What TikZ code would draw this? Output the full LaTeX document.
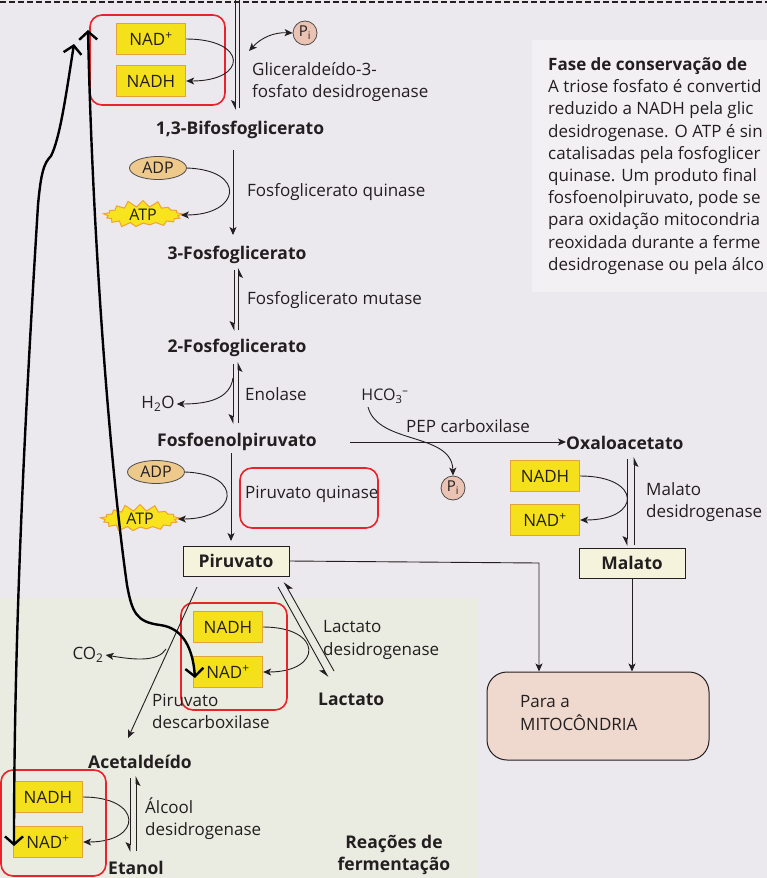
\documentclass[tikz,border=0pt]{standalone}
\usepackage{fontspec}
\setmainfont{Open Sans}
\usetikzlibrary{arrows.meta,shapes.symbols,shapes.geometric}
\definecolor{bg}{HTML}{ECE9EE}
\definecolor{panel}{HTML}{F2F0F3}
\definecolor{greenish}{HTML}{EAEBE1}
\definecolor{ink}{HTML}{231F20}
\definecolor{nady}{HTML}{F5E01C}
\definecolor{nade}{HTML}{E3A23A}
\definecolor{fred}{HTML}{E8232B}
\definecolor{adpf}{HTML}{EDC98C}
\definecolor{atpy}{HTML}{F7E31E}
\definecolor{atpe}{HTML}{F0A236}
\definecolor{pif}{HTML}{EBC3B3}
\definecolor{cream}{HTML}{F6F3DC}
\definecolor{mitof}{HTML}{EFD9CF}
\begin{document}
\begin{tikzpicture}[x=1pt,y=1pt,
  font=\fontsize{17}{22.2}\selectfont,
  every node/.style={text=ink},
  molb/.style={font=\fontsize{17.5}{22.2}\selectfont\bfseries, inner sep=0pt},
  lbl/.style={anchor=west, align=left, inner sep=0pt},
  nadbox/.style={draw=nade, fill=nady, line width=1.3pt, minimum width=69pt, minimum height=31pt, inner sep=0pt},
  redframe/.style={draw=fred, line width=1.6pt, rounded corners=12pt},
  adpnode/.style={ellipse, draw=ink!80, fill=adpf, line width=0.8pt, minimum width=57pt, minimum height=23pt, inner sep=0pt, font=\fontsize{16}{18}\selectfont},
  atpnode/.style={starburst, starburst points=17, starburst point height=7pt, random starburst=30, draw=atpe, fill=atpy, line width=1pt, minimum width=84pt, minimum height=30pt, inner sep=0pt, font=\fontsize{16}{18}\selectfont},
  pinode/.style={circle, draw=ink!80, fill=pif, line width=0.8pt, minimum size=24pt, inner sep=0pt, font=\fontsize{15}{16}\selectfont},
  boxmol/.style={draw=ink, fill=cream, line width=1pt, minimum width=106pt, minimum height=30pt, inner sep=0pt, font=\fontsize{17.5}{22.2}\selectfont\bfseries},
  rl/.style={draw=ink, line width=0.9pt},
  rxa/.style={draw=ink, line width=0.9pt, -{Stealth[length=8pt,width=7pt,inset=2pt]}},
  dbl/.style={draw=ink, line width=0.9pt, {Stealth[length=8pt,width=7pt,inset=2pt]}-{Stealth[length=8pt,width=7pt,inset=2pt]}},
  hd/.style={draw=ink, line width=0.9pt, -{Stealth[harpoon,swap,length=9pt,width=9pt,inset=2pt]}},
  stud/.style={draw=black, line width=2.4pt, line cap=round, line join=round, {Straight Barb[length=8pt,width=18pt]}-{Straight Barb[length=8pt,width=18pt]}}
]
\useasboundingbox (0,0) rectangle (767,-878);
\clip (0,0) rectangle (767,-878);
% background
\fill[bg] (0,0) rectangle (767,-878);
\fill[panel] (532,-40) rectangle (767,-292);
\fill[greenish] (0,-598) rectangle (477,-878);
\draw[ink, line width=1.2pt, dash pattern=on 6pt off 3pt] (0,-2) -- (767,-2);

% ---------- right text panel ----------
\node[lbl] (txt) at (548,-166) {\textbf{Fase de conservação de}\\A triose fosfato é convertid\\reduzido a NADH pela glic\\desidrogenase. O ATP é sin\\catalisadas pela fosfoglicer\\quinase. Um produto final\\fosfoenolpiruvato, pode se\\para oxidação mitocondria\\reoxidada durante a ferme\\desidrogenase ou pela álco};

% ---------- GAPDH step ----------
\node[nadbox] (nad1) at (151,-39) {NAD\textsuperscript{+}};
\node[nadbox] (nadh1) at (151,-81) {NADH};
\draw[redframe] (90,-15) rectangle (225,-105);
\path (235.5,2) coordinate (g1a) (235.5,-110) coordinate (g1b) (239.5,2) coordinate (g2a) (239.5,-108) coordinate (g2b);
\draw[hd] (g1a) -- (g1b);
\draw[rl] (g2a) -- (g2b);
\draw[rxa] (nad1.east) .. controls +(62,0) and +(62,0) .. (nadh1.east);
\node[pinode] (pi1) at (305,-33) {P\textsubscript{i}};
\coordinate (pis) at (249,-51);
\draw[dbl] (pis) to[bend left=25] (pi1.west);
\node[lbl] (gapdh) at (252,-82) {Gliceraldeído-3-\\fosfato desidrogenase};

\node[molb] (bpg) at (240,-130) {1,3-Bifosfoglicerato};

% ---------- PGK step ----------
\path (233,-150) coordinate (k1a) (233,-235) coordinate (k1b);
\draw[rxa] (k1a) -- (k1b);
\node[adpnode] (adp1) at (158,-168) {ADP};
\node[atpnode] (atp1) at (143,-215) {ATP};
\draw[rxa] (adp1.east) .. controls +(60,-2) and +(60,0) .. (atp1.east);
\node[lbl] (pgk) at (247,-192) {Fosfoglicerato quinase};

\node[molb] (pg3) at (237,-255) {3-Fosfoglicerato};

% ---------- mutase ----------
\path (234,-270) coordinate (m1a) (234,-331) coordinate (m1b) (238.5,-330) coordinate (m2a) (238.5,-268) coordinate (m2b);
\draw[hd] (m1a) -- (m1b);
\draw[hd] (m2a) -- (m2b);
\node[lbl] (mut) at (247,-300) {Fosfoglicerato mutase};

\node[molb] (pg2) at (237,-348) {2-Fosfoglicerato};

% ---------- enolase ----------
\path (233,-364) coordinate (e1a) (233,-424) coordinate (e1b) (238,-423) coordinate (e2a) (238,-362) coordinate (e2b);
\draw[hd] (e1a) -- (e1b);
\draw[hd] (e2a) -- (e2b);
\node[inner sep=2pt] (h2o) at (158,-404) {H\textsubscript{2}O};
\coordinate (eh) at (233,-378);
\draw[rxa] (eh) .. controls (230,-398) and (210,-404) .. (h2o.east);
\node[lbl] (eno) at (245,-394) {Enolase};

\node[molb] (pep) at (237,-442) {Fosfoenolpiruvato};

% ---------- PEP carboxylase ----------
\node[molb, anchor=west] (oaa) at (566,-443) {Oxaloacetato};
\coordinate (pc1) at (350,-442);
\draw[rxa] (pc1) -- (oaa.west |- pc1);
\node[inner sep=1pt, font=\fontsize{16}{18}\selectfont] (hco) at (385,-396) {HCO\textsubscript{3}\textsuperscript{–}};
\node[pinode] (pi2) at (453,-488) {P\textsubscript{i}};
\draw[rxa] (368,-407) .. controls (378,-445) and (452,-432) .. (pi2.north);
\node[lbl] (pepc) at (406,-426) {PEP carboxilase};

% ---------- malate dehydrogenase ----------
\node[nadbox] (nadh2) at (545,-476) {NADH};
\node[nadbox] (nad2) at (545,-520) {NAD\textsuperscript{+}};
\draw[rxa] (nadh2.east) .. controls +(62,0) and +(62,0) .. (nad2.east);
\path (627,-459) coordinate (d1a) (627,-546) coordinate (d1b) (634,-545) coordinate (d2a) (634,-457) coordinate (d2b);
\draw[hd] (d1a) -- (d1b);
\draw[hd] (d2a) -- (d2b);
\node[lbl] (mdh) at (646,-502) {Malato\\desidrogenase};
\node[boxmol] (mal) at (632,-563) {Malato};

% ---------- pyruvate kinase ----------
\path (231,-453) coordinate (q1a) (231,-541) coordinate (q1b);
\draw[rxa] (q1a) -- (q1b);
\node[adpnode] (adp2) at (156,-472) {ADP};
\node[atpnode] (atp2) at (140,-519) {ATP};
\draw[rxa] (adp2.east) .. controls +(60,-2) and +(60,0) .. (atp2.east);
\draw[redframe] (240,-468) rectangle (378,-528);
\node[lbl] (pk) at (245,-494) {Piruvato quinase};

\node[boxmol] (pyr) at (236,-561) {Piruvato};

% ---------- to mitochondria ----------
\node[draw=ink, fill=mitof, line width=1pt, rounded corners=20pt, minimum width=222pt, minimum height=88pt] (mito) at (598,-716) {};
\node[lbl] (mitot) at (520,-713) {Para a\\MITOCÔNDRIA};
\coordinate (pyc) at (539,-563);
\draw[rxa] (pyr.east) -- (pyc) -- (pyc |- mito.north);
\draw[rxa] (mal.south) -- (mal.south |- mito.north);

% ---------- lactate dehydrogenase ----------
\path (278,-587) coordinate (l1a) (328,-677) coordinate (l1b) (334,-671) coordinate (l2a) (284,-582) coordinate (l2b);
\draw[hd] (l1a) -- (l1b);
\draw[hd] (l2a) -- (l2b);
\node[nadbox] (nadh3) at (228,-627) {NADH};
\node[nadbox] (nad3) at (228,-672) {NAD\textsuperscript{+}};
\draw[rxa] (nadh3.east) .. controls +(60,0) and +(60,0) .. (nad3.east);
\draw[redframe] (181,-603) rectangle (287,-710);
\node[lbl] (ldh) at (323,-640) {Lactato\\desidrogenase};
\node[molb, anchor=west] (lac) at (318,-699) {Lactato};

% ---------- pyruvate decarboxylase ----------
\path (197,-587) coordinate (pd1) (128,-738) coordinate (pd2);
\draw[rxa] (pd1) -- (pd2);
\node[inner sep=2pt] (co2) at (88,-655) {CO\textsubscript{2}};
\coordinate (pdc) at (166,-649);
\draw[rxa] (pdc) .. controls (158,-662) and (135,-660) .. (co2.east);
\node[lbl] (pdl) at (152,-711) {Piruvato\\descarboxilase};

\node[molb] (acet) at (140,-762) {Acetaldeído};

% ---------- alcohol dehydrogenase ----------
\path (130,-778) coordinate (a1a) (130,-852) coordinate (a1b) (136,-851) coordinate (a2a) (136,-776) coordinate (a2b);
\draw[hd] (a1a) -- (a1b);
\draw[hd] (a2a) -- (a2b);
\node[nadbox] (nadh4) at (48,-797) {NADH};
\node[nadbox] (nad4) at (48,-842) {NAD\textsuperscript{+}};
\draw[rxa] (nadh4.east) .. controls +(60,0) and +(60,0) .. (nad4.east);
\draw[redframe] (1,-770) rectangle (106,-876);
\node[lbl] (adh) at (145,-819) {Álcool\\desidrogenase};
\node[molb, anchor=west] (eth) at (108,-868) {Etanol};

\node[molb, align=center] (ferm) at (394,-855) {Reações de\\fermentação};

% ---------- hand-drawn arrows ----------
\path (74,-44) coordinate (sa1) (14,-846) coordinate (sa2) (88,-30) coordinate (sb1) (195,-678) coordinate (sb2);
\draw[stud] (sa1) .. controls (66,-95) and (60,-138) .. (51,-156) .. controls (44,-163) and (41,-172) .. (38,-205) .. controls (26,-400) and (14,-620) .. (sa2);
\draw[stud] (sb1) .. controls (92,-220) and (108,-450) .. (127,-585) .. controls (132,-612) and (136,-622) .. (160,-625) .. controls (184,-628) and (193,-650) .. (sb2);
\end{tikzpicture}
\end{document}
